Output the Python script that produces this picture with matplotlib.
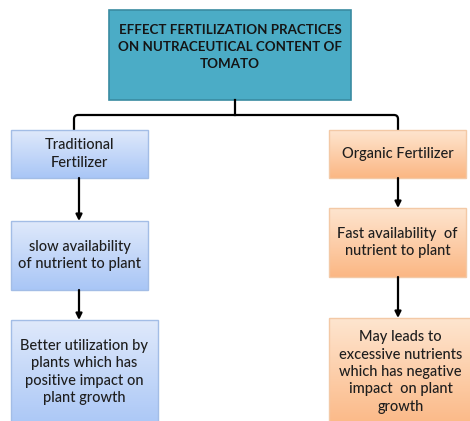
import numpy as np
import matplotlib.pyplot as plt
from matplotlib.patches import Rectangle
from matplotlib.path import Path
from matplotlib.patches import PathPatch
from matplotlib.colors import LinearSegmentedColormap

# Texts of the flowchart
title_text = "EFFECT FERTILIZATION PRACTICES\nON NUTRACEUTICAL CONTENT OF\nTOMATO"
left_texts = ["Traditional\nFertilizer",
              "slow availability\nof nutrient to plant",
              "Better utilization by\nplants which has\npositive impact on\nplant growth"]
right_texts = ["Organic Fertilizer",
               "Fast availability  of\nnutrient to plant",
               "May leads to\nexcessive nutrients\nwhich has negative\nimpact  on plant\ngrowth"]

plt.rcParams['font.family'] = ['Lato', 'DejaVu Sans']

fig = plt.figure(figsize=(4.7, 4.21), dpi=100)
ax = fig.add_axes([0, 0, 1, 1])
ax.set_xlim(0, 470)
ax.set_ylim(421, 0)
ax.axis('off')

blue = LinearSegmentedColormap.from_list('b', ['#dfe9fb', '#a9c6f6'])
orange = LinearSegmentedColormap.from_list('o', ['#fee5cf', '#fbb784'])


def box(x0, y0, x1, y1, cmap, edge, text, ty=None):
    grad = np.linspace(0, 1, 100).reshape(-1, 1)
    im = ax.imshow(grad, cmap=cmap, extent=(x0, x1, y1, y0), aspect='auto', zorder=1)
    r = Rectangle((x0, y0), x1 - x0, y1 - y0, fc='none', ec=edge, lw=1, zorder=2)
    ax.add_patch(r)
    im.set_clip_path(r)
    cy = (y0 + y1) / 2 if ty is None else ty
    ax.text((x0 + x1) / 2, cy, text, ha='center', va='center', fontsize=10.5,
            color='#1e1e1e', linespacing=1.3, fontweight='medium', zorder=3)


def arrow(x, y0, y1):
    ax.annotate('', xy=(x, y1), xytext=(x, y0),
                arrowprops=dict(arrowstyle='-|>', color='black', lw=1.6,
                                mutation_scale=9, shrinkA=0, shrinkB=0))


# top box
ax.add_patch(Rectangle((109, 10), 242, 90, fc='#4bacc6', ec='#3a8ba1', lw=1.2, zorder=2))
ax.text(230, 47, title_text, ha='center', va='center', fontsize=9.6, fontweight='bold',
        color='#151515', linespacing=1.5, zorder=3)

# connector
r = 4
verts = [(74, 130), (74, 115 + r), (74, 115), (74 + r, 115), (394, 115),
         (398, 115), (398, 115 + r), (398, 130)]
codes = [Path.MOVETO, Path.LINETO, Path.CURVE3, Path.CURVE3, Path.LINETO,
         Path.CURVE3, Path.CURVE3, Path.LINETO]
ax.add_patch(PathPatch(Path(verts, codes), fc='none', ec='black', lw=1.6, zorder=2))
ax.plot([235, 235], [100, 115], color='black', lw=1.6, zorder=2)

# left column
box(11, 130, 148, 178, blue, '#a3bde6', left_texts[0])
arrow(79, 178, 221)
box(11, 221, 148, 290, blue, '#a3bde6', left_texts[1])
arrow(79, 290, 320)
box(11, 320, 158, 430, blue, '#a3bde6', left_texts[2], ty=372)

# right column
box(329, 130, 466, 178, orange, '#f3c9a6', right_texts[0])
arrow(398, 178, 208)
box(329, 208, 466, 277, orange, '#f3c9a6', right_texts[1])
arrow(398, 277, 318)
box(329, 318, 472, 430, orange, '#f3c9a6', right_texts[2], ty=372)

fig.savefig('out.png', dpi=100)
